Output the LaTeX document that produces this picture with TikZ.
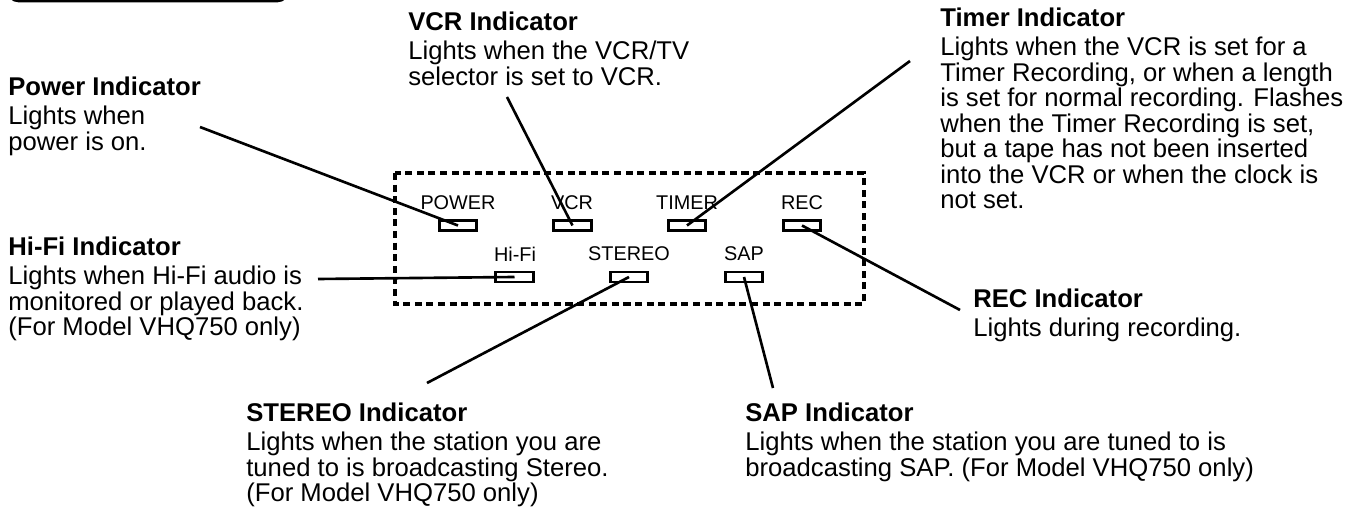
\documentclass[tikz,border=0pt]{standalone}
\usepackage{fontspec}
\setmainfont{Liberation Sans}
\newcommand\blockfont{\fontsize{14.6}{14.5}\selectfont}
\newcommand\ttl[1]{\textbf{#1}\\[1.9pt]}
\begin{document}
\begin{tikzpicture}[x=0.02cm,y=-0.02cm,
  block/.style={anchor=north west,inner sep=0pt,align=left,font=\blockfont},
  lbl/.style={inner sep=0pt,font=\fontsize{11.3}{12}\selectfont},
  led/.style={draw,line width=1.7pt,fill=white,minimum width=0.75cm,minimum height=0.2cm,inner sep=0pt},
  leader/.style={line width=1.5pt},
  panel/.style={line width=1.8pt,dash pattern=on 4pt off 2.6pt}]
\useasboundingbox (0,0) rectangle (1353,523);
% partial box at top left
\draw[line width=1.5pt,rounded corners=6pt] (8,-40) rectangle (288,1);
% panel
\draw[panel] (395,173) rectangle (864,304);
% panel labels
\node[lbl] (lpow) at (458,203) {POWER};
\node[lbl] (lvcr) at (572,203) {VCR};
\node[lbl] (ltim) at (687,203) {TIMER};
\node[lbl] (lrec) at (802,203) {REC};
\node[lbl] (lhifi) at (515,254) {Hi-Fi};
\node[lbl] (lster) at (629,254) {STEREO};
\node[lbl] (lsap) at (744,254) {SAP};
% leds
\node[led] (pow) at (458,225.5) {};
\node[led] (vcr) at (572.5,225.5) {};
\node[led] (tim) at (687,225.5) {};
\node[led] (rec) at (802,225.5) {};
\node[led] (hifi) at (514.5,277) {};
\node[led] (ster) at (629,277) {};
\node[led] (sap) at (744,277) {};
% text blocks
\node[block] (tpow) at (8,77) {\ttl{Power Indicator}Lights when\\power is on.};
\node[block] (tvcr) at (408,12) {\ttl{VCR Indicator}Lights when the VCR/TV\\selector is set to VCR.};
\node[block] (ttim) at (940,8) {\ttl{Timer Indicator}Lights when the VCR is set for a\\Timer Recording, or when a length\\is set for normal recording. Flashes\\when the Timer Recording is set,\\but a tape has not been inserted\\into the VCR or when the clock is\\not set.};
\node[block] (thifi) at (8,237) {\ttl{Hi-Fi Indicator}Lights when Hi-Fi audio is\\monitored or played back.\\(For Model VHQ750 only)};
\node[block] (trec) at (973,289) {\ttl{REC Indicator}Lights during recording.};
\node[block] (tster) at (246,403) {\ttl{STEREO Indicator}Lights when the station you are\\tuned to is broadcasting Stereo.\\(For Model VHQ750 only)};
\node[block] (tsap) at (745,403) {\ttl{SAP Indicator}Lights when the station you are tuned to is\\broadcasting SAP. (For Model VHQ750 only)};
% leader free ends
\coordinate (epow) at (200,127);
\coordinate (evcr) at (507,97);
\coordinate (etim) at (910,61);
\coordinate (erec) at (960,310);
\coordinate (ehifi) at (318,279);
\coordinate (ester) at (427,383);
\coordinate (esap) at (773,388);
% leaders
\draw[leader] (epow) -- (pow.center);
\draw[leader] (evcr) -- (vcr.center);
\draw[leader] (etim) -- (tim.center);
\draw[leader] (rec.center) -- (erec);
\draw[leader] (ehifi) -- (hifi.center);
\draw[leader] (ester) -- (ster.center);
\draw[leader] (esap) -- (sap.center);
\end{tikzpicture}
\end{document}
